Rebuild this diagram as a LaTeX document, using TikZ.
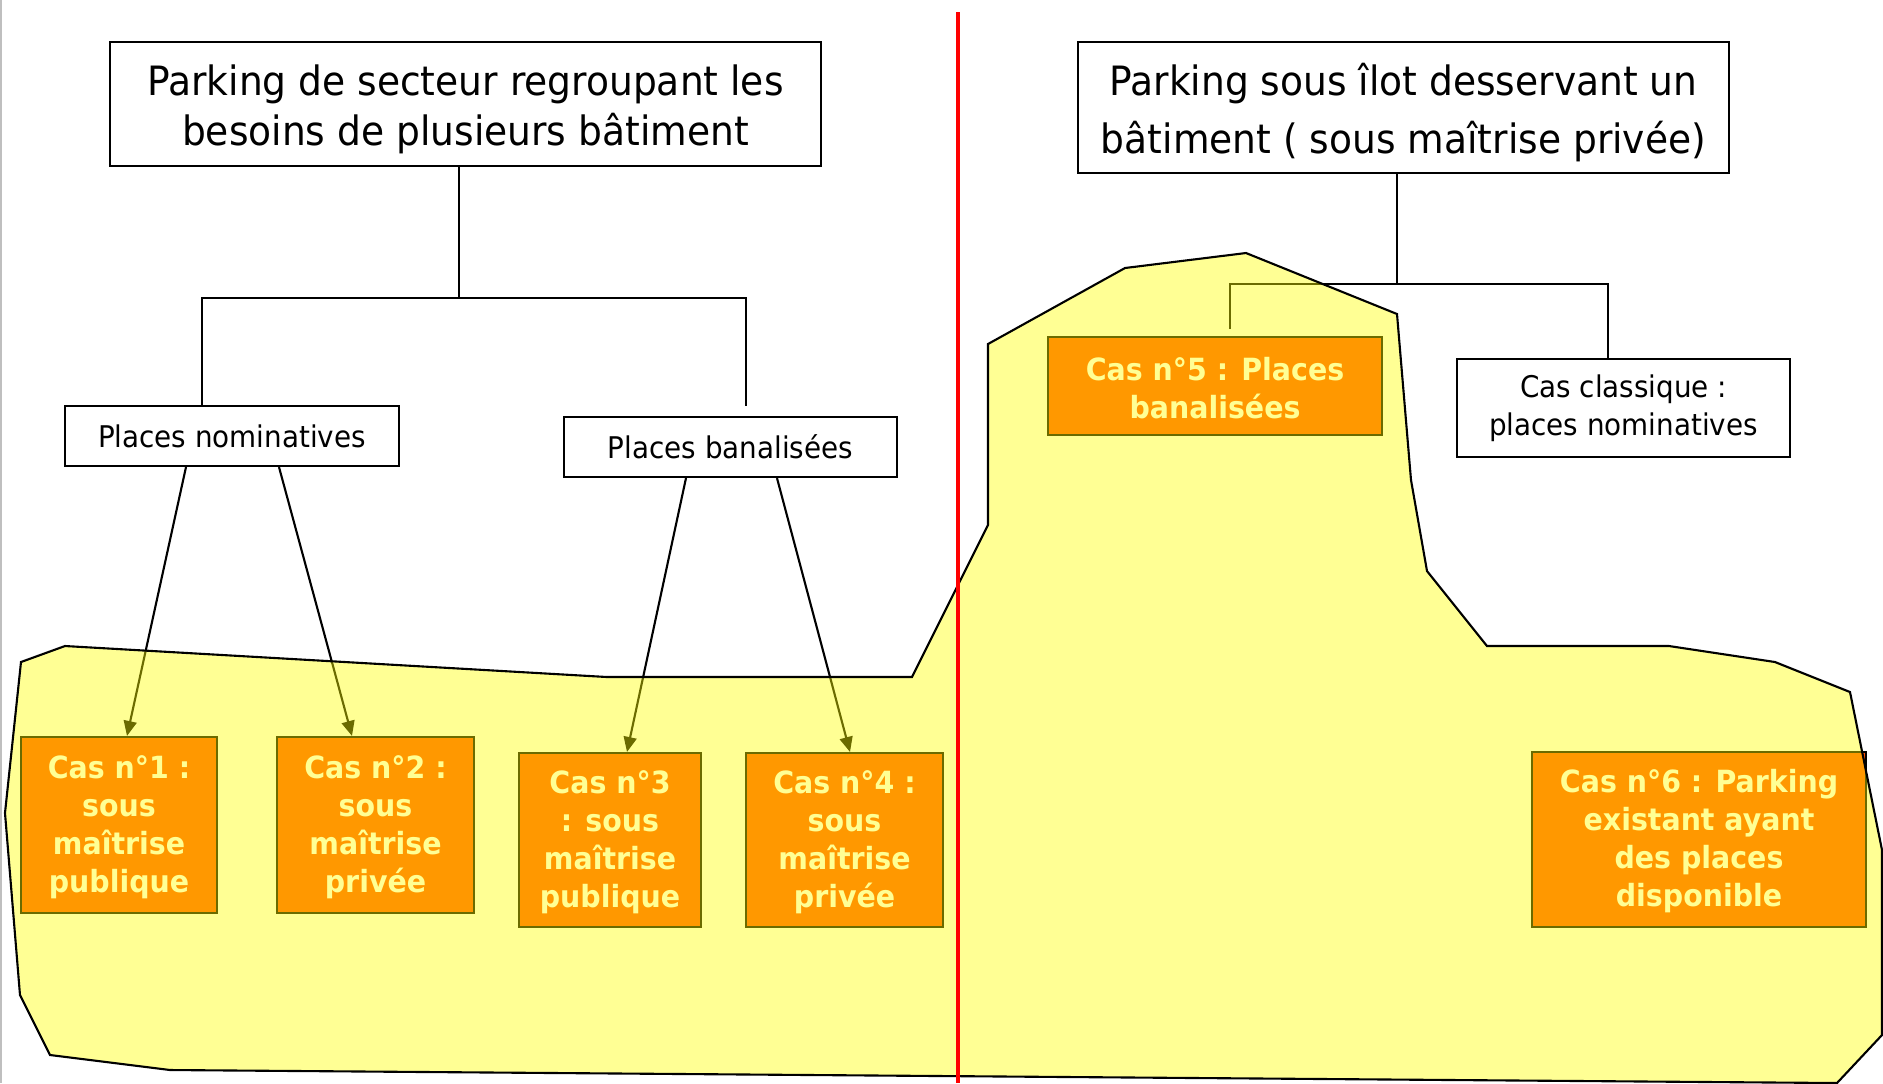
\documentclass[tikz,border=0pt]{standalone}
\usepackage{fontspec}
\setmainfont{DejaVu Sans}[FakeStretch=0.93]
\usetikzlibrary{arrows.meta}
\definecolor{casfill}{HTML}{FF4F00}
\definecolor{zonefill}{HTML}{FFFF00}
\newcommand\toprule{\rule{0pt}{12pt}}
\tikzset{%
  titlebox/.style = {shape=rectangle, draw, align=center, inner sep=0pt,%
                     line width=0.6pt, font=\fontsize{11.5}{14.2}\selectfont},%
  placebox/.style = {titlebox, font=\fontsize{8.5}{10.8}\selectfont},%
  casbox/.style   = {titlebox, fill=casfill, text=white,%
                     font=\bfseries\fontsize{8.7}{10.8}\selectfont},%
  zone/.style     = {draw=black, line width=0.6pt, fill=zonefill, fill opacity=0.42},%
  arr/.style      = {line width=0.6pt, -{Triangle[length=1.5mm,width=1.3mm]}}%
}

\begin{document}
\begin{tikzpicture}[x=0.1mm,y=-0.1mm,line width=0.6pt]
	\useasboundingbox (0,0) rectangle (1883,1083);
	\draw [gray!50, line width=0.4pt] (1,0) -- (1,1083);
	% the two kinds of parking
	\node [titlebox, minimum width=71.1mm, minimum height=12.4mm] (secteur) at (465.5,104)
		{\toprule Parking de secteur regroupant les\\besoins de plusieurs bâtiment};
	\node [titlebox, minimum width=65.1mm, minimum height=13.1mm,
		font=\fontsize{11.5}{16.4}\selectfont] (ilot) at (1403.5,107.5)
		{\toprule Parking sous îlot desservant un\\bâtiment ( sous maîtrise privée)};
	\node [placebox, minimum width=33.4mm, minimum height=6mm] (nomin) at (232,436) {Places nominatives};
	\node [placebox, minimum width=33.3mm, minimum height=6mm] (banal) at (730.5,447) {Places banalisées};
	\node [placebox, minimum width=33.3mm, minimum height=9.8mm] (classic) at (1623.5,408)
		{Cas classique :\\places nominatives};
	% the six cases
	\node [casbox, minimum width=19.6mm, minimum height=17.6mm] (cas1) at (119,825)
		{\strut Cas n°1 :\\sous\\maîtrise\\publique};
	\node [casbox, minimum width=19.7mm, minimum height=17.6mm] (cas2) at (375.5,825)
		{\strut Cas n°2 :\\sous\\maîtrise\\privée};
	\node [casbox, minimum width=18.2mm, minimum height=17.4mm] (cas3) at (610,840)
		{\strut Cas n°3\\: sous\\maîtrise\\publique};
	\node [casbox, minimum width=19.7mm, minimum height=17.4mm] (cas4) at (844.5,840)
		{\strut Cas n°4 :\\sous\\maîtrise\\privée};
	\node [casbox, minimum width=33.4mm, minimum height=9.8mm] (cas5) at (1215,386)
		{\strut Cas n°5 : Places\\banalisées};
	\node [casbox, minimum width=33.4mm, minimum height=17.5mm] (cas6) at (1699,839.5)
		{\strut Cas n°6 : Parking\\existant ayant\\des places\\disponible};
	% tree lines
	\coordinate (j1) at (459,298);
	\coordinate (j1l) at (202,298);
	\coordinate (j1r) at (746,298);
	\coordinate (e1) at (746,406);
	\draw (secteur.south -| j1) -- (j1);
	\draw (nomin.north -| j1l) -- (j1l) -- (j1r) -- (e1);
	\coordinate (j2) at (1397,284);
	\coordinate (j2l) at (1230,284);
	\coordinate (j2r) at (1608,284);
	\coordinate (e2) at (1230,329);
	\draw (ilot.south -| j2) -- (j2);
	\draw (e2) -- (j2l) -- (j2r) -- (classic.north -| j2r);
	\draw [arr] ([xshift=-4.6mm]nomin.south) -- ([xshift=0.8mm]cas1.north);
	\draw [arr] ([xshift=4.7mm]nomin.south) -- ([xshift=-2.35mm]cas2.north);
	\draw [arr] ([xshift=-4.45mm]banal.south) -- ([xshift=1.7mm]cas3.north);
	\draw [arr] ([xshift=4.65mm]banal.south) -- ([xshift=0.55mm]cas4.north);
	% yellow zone
	\draw [zone] (21,662) -- (65,646) -- (607,677) -- (912,677) -- (988,525) -- (988,344)
		-- (1125,268) -- (1246,253) -- (1397,314) -- (1411,480) -- (1427,571) -- (1487,646)
		-- (1669,646) -- (1775,662) -- (1850,692) -- (1882,850) -- (1882,1035) -- (1837,1083)
		-- (170,1070) -- (50,1055) -- (20,995) -- (5,813) -- cycle;
	\draw [red, line width=1.3pt] (958,12) -- (958,1083);
\end{tikzpicture}
\end{document}
